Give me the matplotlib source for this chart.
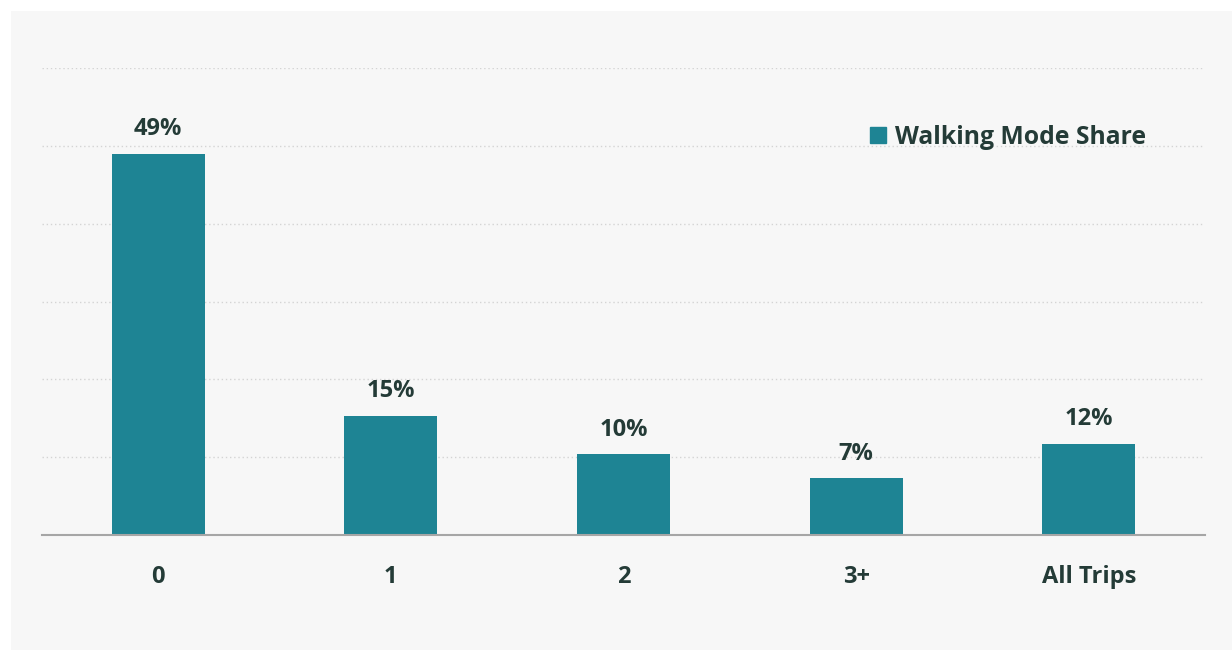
import matplotlib
matplotlib.use("Agg")
import matplotlib.pyplot as plt
from matplotlib.patches import Rectangle

categories = ["0", "1", "2", "3+", "All Trips"]
values = [49.0, 15.3, 10.4, 7.3, 11.7]
labels = ["49%", "15%", "10%", "7%", "12%"]
series_name = "Walking Mode Share"

bar_color = "#1e8494"
text_color = "#243b37"
bg = "#f7f7f7"

plt.rcParams['font.family'] = ['Open Sans', 'DejaVu Sans']

W, H = 1232, 651
fig = plt.figure(figsize=(W / 100, H / 100), dpi=100)
fig.patch.set_facecolor("white")
bgax = fig.add_axes([11 / W, 1 - 650 / H, (W - 11) / W, (650 - 11) / H], zorder=-5)
bgax.set_facecolor(bg)
bgax.set_xticks([])
bgax.set_yticks([])
for s in bgax.spines.values():
    s.set_visible(False)

ax = fig.add_axes([42 / W, 1 - 535 / H, (1205 - 42) / W, (535 - 68) / H])
ax.patch.set_alpha(0)

x = list(range(len(categories)))
ax.bar(x, values, width=0.4, color=bar_color, zorder=3)
ax.set_xlim(-0.5, len(categories) - 0.5)
ax.set_ylim(0, 60)
ax.set_yticks([10, 20, 30, 40, 50, 60])
ax.yaxis.grid(True, linestyle=(0, (1, 2)), color="#d4d4d4", linewidth=1)
ax.set_axisbelow(True)
for s in ["top", "right", "left"]:
    ax.spines[s].set_visible(False)
ax.spines["bottom"].set_color("#a6a6a6")
ax.spines["bottom"].set_linewidth(1.5)
ax.spines["bottom"].set_zorder(4)
ax.tick_params(axis="y", length=0, labelleft=False)
ax.tick_params(axis="x", length=0, pad=21.5)
ax.set_xticks(x)
ax.set_xticklabels(categories, fontsize=17, fontweight="bold", color=text_color)

for xi, v, lab in zip(x, values, labels):
    ax.annotate(lab, (xi, v), xytext=(0, 9), textcoords="offset points",
                ha="center", va="bottom", fontsize=17, fontweight="bold", color=text_color)

leg = fig.legend(handles=[Rectangle((0, 0), 1, 1, color=bar_color)], labels=[series_name],
                 loc="center left", bbox_to_anchor=(848 / W, 1 - 137 / H), frameon=False,
                 handlelength=0.65, handleheight=0.65, handletextpad=0.35,
                 prop={"size": 17.8, "weight": "bold"})
for t in leg.get_texts():
    t.set_color(text_color)

fig.savefig("out.png", dpi=100, facecolor="white")
